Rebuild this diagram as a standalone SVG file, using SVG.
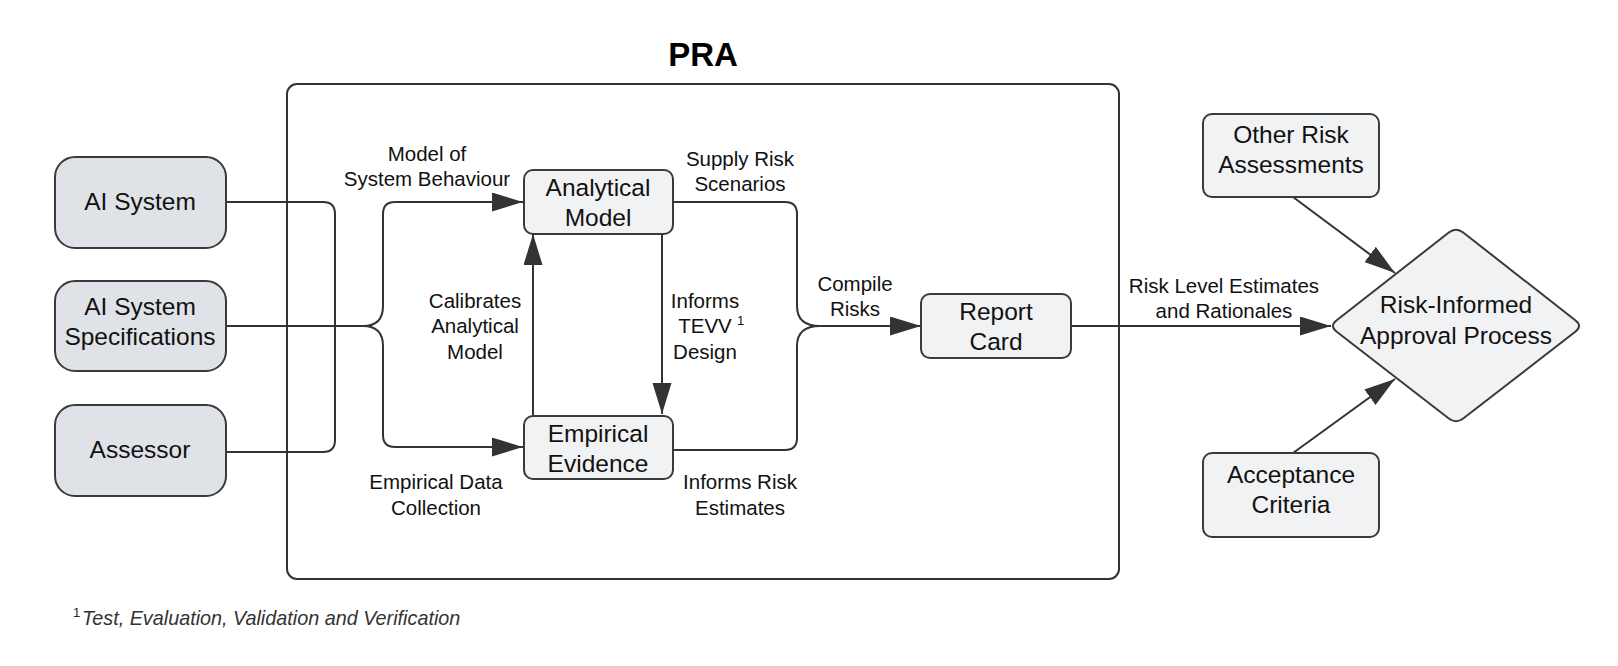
<svg xmlns="http://www.w3.org/2000/svg" width="1618" height="666" viewBox="0 0 1618 666">
<style>
.box{stroke:#3a3a3a;stroke-width:2;}
.dark{fill:#dfe2e7;}
.light{fill:#f1f2f4;}
.nt{font-family:"Liberation Sans",Arial,sans-serif;font-size:24.5px;fill:#111;text-anchor:middle;}
.lb{font-family:"Liberation Sans",Arial,sans-serif;font-size:20.5px;fill:#111;text-anchor:middle;}
.con{fill:none;stroke:#333;stroke-width:2;}
</style>
<defs>
<marker id="ah" markerUnits="userSpaceOnUse" markerWidth="32" markerHeight="20" refX="31" refY="9.5" orient="auto">
<path d="M0,0 L31,9.5 L0,19 Z" fill="#333"/>
</marker>
</defs>
<rect width="1618" height="666" fill="#fff"/>
<g id="pra">
<rect x="287" y="84" width="832" height="495" rx="10" fill="none" stroke="#333" stroke-width="2"/>
<text x="703" y="66" font-family="Liberation Sans,Arial,sans-serif" font-size="33" font-weight="bold" text-anchor="middle" fill="#000">PRA</text>
</g>
<g id="connectors">
<path class="con" d="M226,202 H323 Q335,202 335,214 V440 Q335,452 323,452 H226"/>
<path class="con" d="M226,326 H363"/>
<path class="con" d="M363,326 Q383,326 383,306 V214 Q383,202 395,202 H523" marker-end="url(#ah)"/>
<path class="con" d="M363,326 Q383,326 383,346 V435 Q383,447 395,447 H523" marker-end="url(#ah)"/>
<path class="con" d="M673,202 H785 Q797,202 797,214 V306 Q797,326 820,326"/>
<path class="con" d="M673,450 H785 Q797,450 797,438 V346 Q797,326 820,326"/>
<path class="con" d="M818,326 H921" marker-end="url(#ah)"/>
<path class="con" d="M533,415 V234" marker-end="url(#ah)"/>
<path class="con" d="M662,235 V414" marker-end="url(#ah)"/>
<path class="con" d="M1071,326 H1331" marker-end="url(#ah)"/>
<path class="con" d="M1293,197 L1395,273" marker-end="url(#ah)"/>
<path class="con" d="M1293,453 L1395,379" marker-end="url(#ah)"/>
</g>
<g id="labels">
<text class="lb" x="427" y="161">Model of</text>
<text class="lb" x="427" y="186">System Behaviour</text>
<text class="lb" x="740" y="166">Supply Risk</text>
<text class="lb" x="740" y="191">Scenarios</text>
<text class="lb" x="475" y="308">Calibrates</text>
<text class="lb" x="475" y="333">Analytical</text>
<text class="lb" x="475" y="359">Model</text>
<text class="lb" x="705" y="308">Informs</text>
<text class="lb" x="705" y="333">TEVV</text>
<text x="737" y="325" font-family="Liberation Sans,Arial,sans-serif" font-size="13" fill="#111">1</text>
<text class="lb" x="705" y="359">Design</text>
<text class="lb" x="436" y="489">Empirical Data</text>
<text class="lb" x="436" y="515">Collection</text>
<text class="lb" x="740" y="489">Informs Risk</text>
<text class="lb" x="740" y="515">Estimates</text>
<text class="lb" x="855" y="291">Compile</text>
<text class="lb" x="855" y="316">Risks</text>
<text class="lb" x="1224" y="293">Risk Level Estimates</text>
<text class="lb" x="1224" y="318">and Rationales</text>
</g>
<g id="ai-system">
<rect class="box dark" x="55" y="157" width="171" height="91" rx="20"/>
<text class="nt" x="140" y="210">AI System</text>
</g>
<g id="ai-specs">
<rect class="box dark" x="55" y="281" width="171" height="90" rx="20"/>
<text class="nt" x="140" y="315">AI System</text>
<text class="nt" x="140" y="345">Specifications</text>
</g>
<g id="assessor">
<rect class="box dark" x="55" y="405" width="171" height="91" rx="20"/>
<text class="nt" x="140" y="458">Assessor</text>
</g>
<g id="analytical-model">
<rect class="box light" x="524" y="170" width="149" height="64" rx="9"/>
<text class="nt" x="598" y="196">Analytical</text>
<text class="nt" x="598" y="226">Model</text>
</g>
<g id="empirical-evidence">
<rect class="box light" x="524" y="416" width="149" height="63" rx="9"/>
<text class="nt" x="598" y="442">Empirical</text>
<text class="nt" x="598" y="472">Evidence</text>
</g>
<g id="report-card">
<rect class="box light" x="921" y="294" width="150" height="64" rx="9"/>
<text class="nt" x="996" y="320">Report</text>
<text class="nt" x="996" y="350">Card</text>
</g>
<g id="other-risk">
<rect class="box light" x="1203" y="114" width="176" height="83" rx="9"/>
<text class="nt" x="1291" y="143">Other Risk</text>
<text class="nt" x="1291" y="173">Assessments</text>
</g>
<g id="acceptance">
<rect class="box light" x="1203" y="453" width="176" height="84" rx="9"/>
<text class="nt" x="1291" y="483">Acceptance</text>
<text class="nt" x="1291" y="513">Criteria</text>
</g>
<g id="approval">
<path class="box light" d="M1336.4,320.5 L1448.8,232.5 Q1456,227 1463.2,232.5 L1575.6,320.5 Q1582.5,326 1575.6,331.5 L1463.2,418.5 Q1456,424 1448.8,418.5 L1336.4,331.5 Q1329.5,326 1336.4,320.5 Z"/>
<text class="nt" x="1456" y="313">Risk-Informed</text>
<text class="nt" x="1456" y="344">Approval Process</text>
</g>
<g id="footnote">
<text x="73" y="617" font-family="Liberation Sans,Arial,sans-serif" font-size="13" fill="#222">1</text>
<text x="82" y="625" font-family="Liberation Sans,Arial,sans-serif" font-size="19.8" font-style="italic" fill="#333">Test, Evaluation, Validation and Verification</text>
</g>
</svg>
